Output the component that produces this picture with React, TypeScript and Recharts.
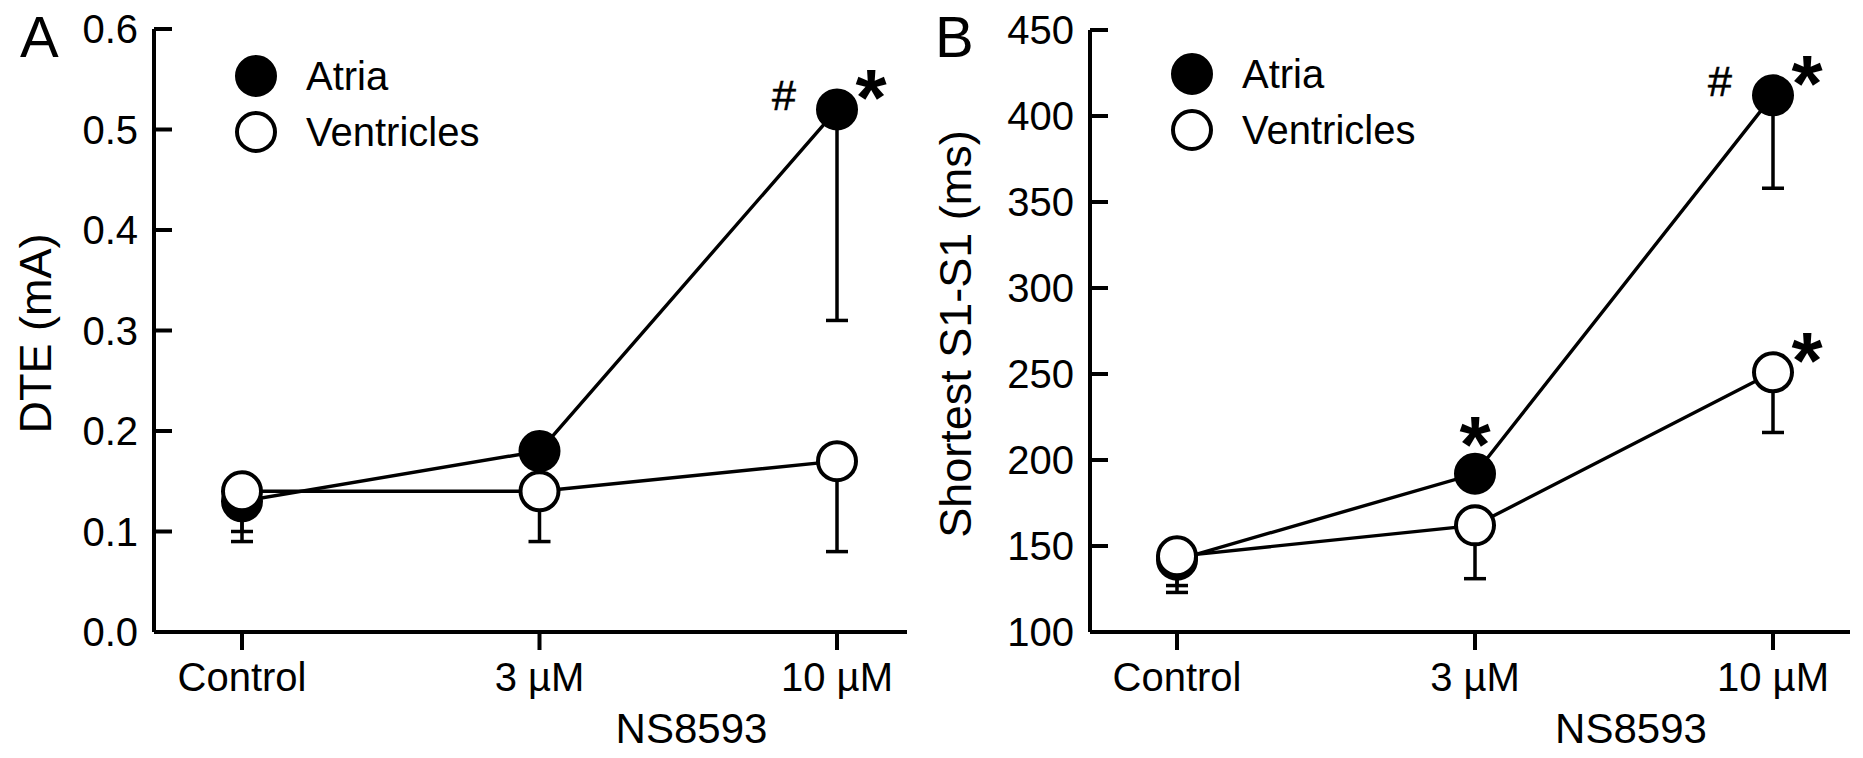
import React from "react";
import {
  LineChart,
  Line,
  XAxis,
  YAxis,
  ErrorBar,
  Legend,
  Label,
  LabelList,
} from "recharts";

const FONT = '"Liberation Sans", Arial, Helvetica, sans-serif';

const categories = ["Control", "3 µM", "10 µM"];
const seriesNames = ["Atria", "Ventricles"];

// panel A - DTE (mA)
const dteAtria = [0.13, 0.18, 0.52];
const dteAtriaErr = [0.03, 0.01, 0.21];
const dteVentricles = [0.14, 0.14, 0.17];
const dteVentriclesErr = [0.05, 0.05, 0.09];
const dteAtriaNotes = ["", "", "#*"];
const dteVentriclesNotes = ["", "", ""];
const dteTicks = [0, 0.1, 0.2, 0.3, 0.4, 0.5, 0.6];

// panel B - shortest S1-S1 (ms)
const s1Atria = [142, 192, 412];
const s1AtriaErr = [19, 3, 54];
const s1Ventricles = [144, 162, 251];
const s1VentriclesErr = [17, 31, 35];
const s1AtriaNotes = ["", "^", "#*"];
const s1VentriclesNotes = ["", "", "*"];
const s1Ticks = [100, 150, 200, 250, 300, 350, 400, 450];

function buildRows(a, aErr, aNotes, v, vErr, vNotes) {
  return categories.map((cat, i) => ({
    cat,
    atria: a[i],
    atriaErr: [aErr[i], 0],
    atriaNote: aNotes[i],
    ventricles: v[i],
    ventriclesErr: [vErr[i], 0],
    ventriclesNote: vNotes[i],
  }));
}

const rowsA = buildRows(dteAtria, dteAtriaErr, dteAtriaNotes, dteVentricles, dteVentriclesErr, dteVentriclesNotes);
const rowsB = buildRows(s1Atria, s1AtriaErr, s1AtriaNotes, s1Ventricles, s1VentriclesErr, s1VentriclesNotes);

// # and * significance marks next to a point
const renderNote = (props: any) => {
  const { x, y, value } = props;
  if (!value) return null;
  const txt = { fill: "#000", fontFamily: FONT, textAnchor: "middle" as const };
  return (
    <g>
      {value.includes("#") && (
        <text {...txt} x={x - 53} y={y + 1} fontSize={43} stroke="#000" strokeWidth={0.6}>#</text>
      )}
      {value.includes("*") && (
        <text {...txt} x={x + 34} y={y + 16} fontSize={80} fontWeight="bold">*</text>
      )}
      {value.includes("^") && (
        <text {...txt} x={x} y={y - 2} fontSize={80} fontWeight="bold">*</text>
      )}
    </g>
  );
};

function LegendBox() {
  return (
    <div style={{ fontFamily: FONT, fontSize: 40, color: "#000" }}>
      {seriesNames.map((name, i) => (
        <div key={name} style={{ display: "flex", alignItems: "center", height: 56 }}>
          <svg width={46} height={46}>
            <circle cx={23} cy={23} r={19} fill={i === 0 ? "#000" : "#fff"} stroke="#000" strokeWidth={4} />
          </svg>
          <span style={{ marginLeft: 27, lineHeight: "46px" }}>{name}</span>
        </div>
      ))}
    </div>
  );
}

function Panel(props: any) {
  const { rows, domain, ticks, fmt, yLabel, width, yAxisWidth, margin, padding, legendPos, yLabelX } = props;
  const axisStyle = { stroke: "#000", strokeWidth: 4 };
  return (
    <LineChart width={width} height={758} data={rows} margin={margin}>
      <XAxis
        dataKey="cat"
        scale="point"
        padding={padding}
        height={126}
        interval={0}
        axisLine={axisStyle}
        tickLine={axisStyle}
        tickSize={18}
        tickMargin={13}
        tick={{ fill: "#000", fontSize: 40, fontFamily: FONT }}
      >
        <Label
          content={(p: any) => {
            const vb = p.viewBox;
            return (
              <text x={vb.x + vb.width / 2 + 161} y={vb.y + 111} textAnchor="middle" fontSize={42} fontFamily={FONT} fill="#000">
                NS8593
              </text>
            );
          }}
        />
      </XAxis>
      <YAxis
        type="number"
        domain={domain}
        ticks={ticks}
        interval={0}
        width={yAxisWidth}
        tickFormatter={fmt}
        axisLine={axisStyle}
        tickLine={axisStyle}
        tickSize={-18}
        tickMargin={34}
        tick={{ fill: "#000", fontSize: 40, fontFamily: FONT }}
      >
        <Label
          content={(p: any) => {
            const vb = p.viewBox;
            const cy = vb.y + vb.height / 2 + 3;
            return (
              <text transform={`translate(${yLabelX},${cy}) rotate(-90)`} textAnchor="middle" fontSize={45} fontFamily={FONT} fill="#000">
                {yLabel}
              </text>
            );
          }}
        />
      </YAxis>
      <Legend
        layout="vertical"
        align="center"
        verticalAlign="middle"
        wrapperStyle={{ left: legendPos[0], top: legendPos[1], width: "auto", height: "auto" }}
        content={() => <LegendBox />}
      />
      <Line
        dataKey="atria"
        name="Atria"
        stroke="#000"
        strokeWidth={3.4}
        dot={{ r: 19, fill: "#000", stroke: "#000", strokeWidth: 4 }}
        activeDot={false}
        isAnimationActive={false}
      >
        <ErrorBar dataKey="atriaErr" direction="y" width={11} stroke="#000" strokeWidth={3.5} />
        <LabelList dataKey="atriaNote" content={renderNote} />
      </Line>
      <Line
        dataKey="ventricles"
        name="Ventricles"
        stroke="#000"
        strokeWidth={3.4}
        dot={{ r: 19, fill: "#fff", stroke: "#000", strokeWidth: 4 }}
        activeDot={false}
        isAnimationActive={false}
      >
        <ErrorBar dataKey="ventriclesErr" direction="y" width={11} stroke="#000" strokeWidth={3.5} />
        <LabelList dataKey="ventriclesNote" content={renderNote} />
      </Line>
    </LineChart>
  );
}

export default function App() {
  const letter = { position: "absolute" as const, top: 8, fontSize: 58, lineHeight: "58px", fontFamily: FONT, color: "#000" };
  return (
    <div style={{ position: "absolute", left: 0, top: 0, width: 1863, height: 758, background: "#fff", fontFamily: FONT, overflow: "hidden" }}>
      <div style={{ position: "absolute", left: 0, top: 0 }}>
        <Panel
          rows={rowsA}
          domain={[0, 0.6]}
          ticks={dteTicks}
          fmt={(v: number) => v.toFixed(1)}
          yLabel="DTE (mA)"
          width={930}
          yAxisWidth={154}
          margin={{ top: 29, right: 23, bottom: 0, left: 0 }}
          padding={{ left: 88, right: 70 }}
          legendPos={[233, 48]}
          yLabelX={51}
        />
      </div>
      <div style={{ position: "absolute", left: 930, top: 0 }}>
        <Panel
          rows={rowsB}
          domain={[100, 450]}
          ticks={s1Ticks}
          fmt={(v: number) => String(v)}
          yLabel="Shortest S1-S1 (ms)"
          width={933}
          yAxisWidth={160}
          margin={{ top: 30, right: 13, bottom: 0, left: 0 }}
          padding={{ left: 87, right: 77 }}
          legendPos={[239, 46]}
          yLabelX={41}
        />
      </div>
      <div style={{ ...letter, left: 20 }}>A</div>
      <div style={{ ...letter, left: 935 }}>B</div>
    </div>
  );
}
